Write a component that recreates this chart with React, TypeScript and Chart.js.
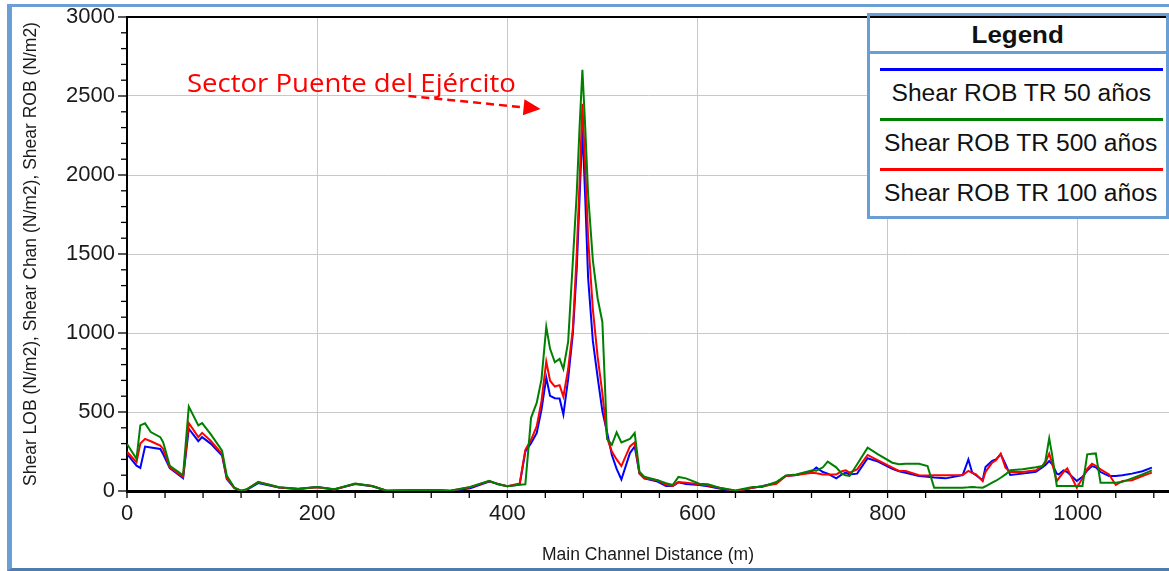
import { useEffect, useRef } from "react";
import { Chart, registerables } from "chart.js";

Chart.register(...registerables);

// Main channel stations (m)
const distance = [
  0, 10, 14, 19, 25, 35, 38, 45, 59, 65, 75, 79, 88, 100, 105, 113, 120, 126, 138, 150,
  160, 180, 200, 218, 240, 258, 273, 300, 322, 340, 361, 381, 390, 400, 413, 419, 425, 431, 436, 441,
  445, 450, 455, 459, 464, 469, 473, 476, 479, 482, 485, 490, 495, 500, 505, 510, 515, 520, 529, 534,
  539, 544, 558, 567, 574, 580, 588, 602, 611, 623, 640, 658, 668, 683, 693, 704, 721, 725, 732, 737,
  746, 752, 756, 760, 768, 779, 790, 805, 812, 819, 833, 842, 849, 861, 879, 885, 889, 893, 900, 903,
  910, 914, 919, 924, 929, 942, 956, 963, 966, 970, 973, 978, 980, 985, 989, 999, 1005, 1010, 1015, 1019,
  1024, 1033, 1040, 1047, 1057, 1068, 1078,
];

// Shear ROB, return period 50 years (N/m2)
const shearTR50 = [
  234, 160, 146, 281, 275, 266, 234, 145, 81, 394, 315, 341, 300, 224, 75, 18, 0, 8, 50, 35,
  22, 12, 25, 10, 44, 30, 2, 4, 6, 0, 18, 60, 45, 30, 40, 250, 303, 367, 516, 717,
  602, 587, 585, 484, 708, 1000, 1400, 1850, 2300, 1850, 1350, 950, 720, 506, 370, 228, 140, 73, 240, 282,
  111, 80, 60, 32, 32, 55, 45, 38, 30, 15, 0, 20, 30, 53, 95, 101, 127, 148, 120, 110,
  80, 105, 116, 105, 110, 207, 186, 140, 125, 116, 95, 90, 85, 80, 101, 200, 116, 100, 68, 152,
  190, 200, 232, 170, 101, 110, 122, 150, 165, 190, 170, 110, 105, 131, 120, 63, 90, 130, 158, 150,
  120, 95, 95, 100, 110, 125, 148,
];

// Shear ROB, return period 500 years (N/m2)
const shearTR500 = [
  298, 204, 415, 428, 373, 341, 309, 160, 100, 534, 415, 430, 360, 255, 96, 21, 2, 11, 55, 40,
  24, 14, 26, 11, 47, 32, 2, 5, 6, 2, 26, 64, 43, 30, 40, 43, 463, 559, 708, 1039,
  900, 815, 836, 772, 943, 1460, 1880, 2300, 2666, 2300, 1880, 1460, 1220, 1070, 330, 292, 371, 307, 330, 367,
  122, 90, 68, 50, 38, 89, 80, 46, 42, 21, 4, 25, 25, 57, 99, 105, 131, 129, 150, 186,
  150, 108, 100, 95, 169, 274, 232, 179, 169, 173, 173, 158, 21, 21, 21, 23, 25, 23, 21, 30,
  53, 65, 84, 105, 131, 137, 150, 158, 190, 333, 232, 32, 32, 32, 32, 32, 32, 232, 236, 238,
  53, 53, 53, 58, 80, 105, 131,
];

// Shear ROB, return period 100 years (N/m2)
const shearTR100 = [
  249, 182, 300, 330, 315, 288, 266, 149, 89, 430, 341, 368, 318, 234, 81, 20, 0, 10, 58, 38,
  22, 13, 24, 10, 46, 32, 2, 5, 6, 1, 24, 63, 44, 30, 47, 260, 324, 410, 570, 819,
  698, 661, 670, 597, 772, 1030, 1500, 1950, 2450, 2050, 1600, 1150, 850, 620, 335, 250, 200, 158, 282, 307,
  111, 80, 68, 40, 32, 57, 53, 42, 35, 21, 0, 21, 30, 46, 95, 101, 116, 112, 105, 105,
  105, 125, 131, 116, 137, 228, 194, 148, 127, 127, 100, 98, 100, 100, 101, 127, 115, 105, 63, 120,
  180, 194, 236, 148, 120, 120, 131, 160, 179, 236, 179, 63, 80, 120, 143, 21, 80, 140, 173, 160,
  137, 105, 38, 63, 68, 95, 116,
];

const seriesLabels = ["Shear ROB TR 50 años", "Shear ROB TR 500 años", "Shear ROB TR 100 años"];
const seriesColors = ["#0000ff", "#008000", "#ff0000"];
// stacking of the lines: green on top, then red, blue underneath
const seriesOrder = [2, 0, 1];

const xTicks = [0, 200, 400, 600, 800, 1000];
const yTicks = [0, 500, 1000, 1500, 2000, 2500, 3000];

const annotationText = "Sector Puente del Ejército";
const annotationAnchor = { x: 63, y: 2527 };
const arrowTail = { x: 296, y: 2500 };
const arrowTip = { x: 435, y: 2418 };

const AXIS_FONT = '"Liberation Sans", Arial, sans-serif';

const decorPlugin = {
  id: "decor",
  afterDraw(chart: any) {
    const { ctx, chartArea: a, scales } = chart;
    const x = scales.x;
    const y = scales.y;
    ctx.save();

    // frame line along the top of the plot
    ctx.strokeStyle = "#000";
    ctx.lineWidth = 2;
    ctx.beginPath();
    ctx.moveTo(a.left, a.top);
    ctx.lineTo(a.right, a.top);
    ctx.stroke();

    // major and minor tick marks
    ctx.lineWidth = 1.3;
    for (let v = 0; v <= y.max; v += 100) {
      const py = y.getPixelForValue(v);
      const len = v % 500 === 0 ? 9 : 6;
      ctx.beginPath();
      ctx.moveTo(a.left - len, py);
      ctx.lineTo(a.left, py);
      ctx.stroke();
    }
    for (let v = 0; v <= x.max; v += 40) {
      const px = x.getPixelForValue(v);
      ctx.beginPath();
      ctx.moveTo(px, a.bottom);
      ctx.lineTo(px, a.bottom + 7);
      ctx.stroke();
    }

    // annotation label
    const tx = x.getPixelForValue(annotationAnchor.x);
    const ty = y.getPixelForValue(annotationAnchor.y);
    ctx.fillStyle = "#ff0000";
    ctx.font = '26px "Open Sans", sans-serif';
    ctx.textBaseline = "alphabetic";
    ctx.textAlign = "left";
    const w = ctx.measureText(annotationText).width;
    ctx.save();
    ctx.translate(tx, ty);
    ctx.scale(329 / w, 0.95);
    ctx.fillText(annotationText, 0, 0);
    ctx.restore();

    // dashed arrow
    const x0 = x.getPixelForValue(arrowTail.x);
    const y0 = y.getPixelForValue(arrowTail.y);
    const x1 = x.getPixelForValue(arrowTip.x);
    const y1 = y.getPixelForValue(arrowTip.y);
    const dx = x1 - x0;
    const dy = y1 - y0;
    const len = Math.hypot(dx, dy);
    const ux = dx / len;
    const uy = dy / len;
    const head = 17;
    const half = 8;
    const bx = x1 - ux * head;
    const by = y1 - uy * head;
    ctx.strokeStyle = "#ff0000";
    ctx.lineWidth = 2.5;
    ctx.setLineDash([8, 5]);
    ctx.beginPath();
    ctx.moveTo(x0, y0);
    ctx.lineTo(bx, by);
    ctx.stroke();
    ctx.setLineDash([]);
    ctx.beginPath();
    ctx.moveTo(x1, y1);
    ctx.lineTo(bx - uy * half, by + ux * half);
    ctx.lineTo(bx + uy * half, by - ux * half);
    ctx.closePath();
    ctx.fill();

    ctx.restore();
  },
};

function ShearChart() {
  const ref = useRef<HTMLCanvasElement | null>(null);

  useEffect(() => {
    if (!ref.current) return;
    const values = [shearTR50, shearTR500, shearTR100];
    const chart = new Chart(ref.current, {
      type: "line",
      data: {
        datasets: values.map((vals, i) => ({
          label: seriesLabels[i],
          data: distance.map((d, k) => ({ x: d, y: vals[k] })),
          borderColor: seriesColors[i],
          backgroundColor: seriesColors[i],
          borderWidth: 2,
          pointRadius: 0,
          tension: 0,
          fill: false,
          order: seriesOrder[i],
        })),
      },
      options: {
        responsive: false,
        animation: false,
        layout: { padding: { top: 17, left: 0, right: 0, bottom: 0 } },
        plugins: {
          legend: { display: false },
          tooltip: { enabled: false },
        },
        scales: {
          x: {
            type: "linear",
            min: 0,
            max: 1096,
            afterBuildTicks: (s: any) => {
              s.ticks = xTicks.map((v) => ({ value: v }));
            },
            afterFit: (s: any) => {
              s.height = 80;
              s.paddingLeft = 0;
              s.paddingRight = 0;
            },
            grid: { color: "#c8c8c8", lineWidth: 1, drawTicks: false },
            border: { display: true, color: "#000", width: 3 },
            ticks: {
              color: "#1a1a1a",
              font: { family: AXIS_FONT, size: 22 },
              padding: 10,
              maxRotation: 0,
              callback: (v: any) => String(v),
            },
            title: {
              display: true,
              text: "Main Channel Distance (m)",
              color: "#1a1a1a",
              font: { family: AXIS_FONT, size: 17.5 },
              padding: { top: 0, bottom: 5 },
            },
          },
          y: {
            type: "linear",
            min: 0,
            max: 3000,
            afterBuildTicks: (s: any) => {
              s.ticks = yTicks.map((v) => ({ value: v }));
            },
            afterFit: (s: any) => {
              s.width = 127;
              s.paddingTop = 0;
              s.paddingBottom = 0;
            },
            grid: { color: "#c8c8c8", lineWidth: 1, drawTicks: false },
            border: { display: true, color: "#000", width: 2 },
            ticks: {
              color: "#1a1a1a",
              font: { family: AXIS_FONT, size: 22 },
              padding: 12,
              callback: (v: any) => String(v),
            },
            title: {
              display: true,
              text: "Shear LOB (N/m2), Shear Chan (N/m2), Shear ROB (N/m2)",
              color: "#1a1a1a",
              font: { family: AXIS_FONT, size: 17.5 },
              padding: { top: 21, bottom: 0 },
            },
          },
        },
      },
      plugins: [decorPlugin],
    });
    return () => chart.destroy();
  }, []);

  return (
    <canvas
      ref={ref}
      width={1169}
      height={571}
      style={{ position: "absolute", left: 0, top: 0, width: 1169, height: 571 }}
    />
  );
}

const legendBlue = "#6a9fd6";

function LegendBox() {
  const lineTops = [51.7, 102.3, 152.3];
  const textCenters = [77.3, 127.3, 176.7];
  return (
    <div
      style={{
        position: "absolute",
        left: 867,
        top: 13,
        width: 302,
        height: 206,
        boxSizing: "border-box",
        border: `3px solid ${legendBlue}`,
        background: "#fff",
        fontFamily: AXIS_FONT,
        color: "#111",
      }}
    >
      <div
        style={{
          position: "absolute",
          left: 0,
          right: 0,
          top: 0,
          height: 38,
          boxSizing: "border-box",
          borderTop: "2px solid #000",
          borderBottom: `3px solid ${legendBlue}`,
          display: "flex",
          alignItems: "center",
          justifyContent: "center",
        }}
      >
        <span style={{ fontWeight: "bold", fontSize: 24, transform: "scaleX(1.08)", display: "inline-block" }}>
          Legend
        </span>
      </div>
      {seriesLabels.map((label, i) => (
        <div key={label}>
          <div
            style={{
              position: "absolute",
              left: 10,
              width: 283,
              top: lineTops[i],
              height: 3,
              background: seriesColors[i],
            }}
          />
          <div
            style={{
              position: "absolute",
              left: 0,
              right: 0,
              top: textCenters[i] - 15,
              height: 30,
              lineHeight: "30px",
              textAlign: "center",
              fontSize: 23,
              whiteSpace: "nowrap",
            }}
          >
            <span style={{ display: "inline-block", transform: "scaleX(1.07)", marginLeft: 6 }}>{label}</span>
          </div>
        </div>
      ))}
    </div>
  );
}

export default function App() {
  return (
    <div
      style={{
        position: "fixed",
        left: 0,
        top: 0,
        width: 1169,
        height: 571,
        background: "#fff",
        overflow: "hidden",
      }}
    >
      <ShearChart />
      <div
        style={{
          position: "absolute",
          left: 7,
          top: 4,
          right: -10,
          bottom: 0,
          borderLeft: "5px solid #6a9fd6",
          borderTop: "3px solid #6a9fd6",
          borderBottom: "3px solid #4f7cad",
          pointerEvents: "none",
        }}
      />
      <LegendBox />
    </div>
  );
}
